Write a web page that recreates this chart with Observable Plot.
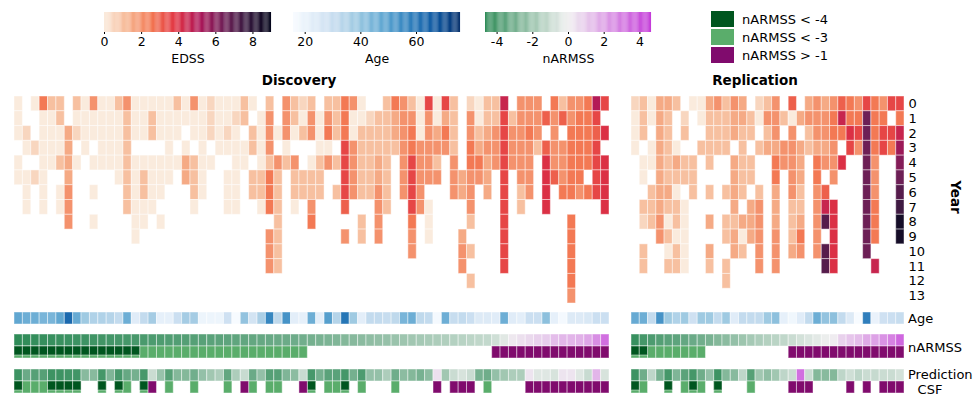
<!DOCTYPE html>
<html><head><meta charset="utf-8">
<script src="https://cdn.jsdelivr.net/npm/d3@7"></script>
<script src="https://cdn.jsdelivr.net/npm/@observablehq/plot@0.6"></script>
<style>
body{margin:0;background:#fff;font-family:"DejaVu Sans",sans-serif;}
#root{position:relative;width:974px;height:398px;overflow:hidden;background:#fff;}
.abs{position:absolute;white-space:nowrap;color:#000;}
</style></head><body><div id="root"></div>
<script>
const _ = null;
const years = [0,1,2,3,4,5,6,7,8,9,10,11,12,13];

// EDSS, Discovery cohort: one array per year (71 patients)
const discEdss0 = [0,_,0,2.5,1,1,_,1,0,2,0,0,1,2,0,0,0,0,0,1,0,2,0,0.5,0, 0,0,1,0,_,1,_,2,1,0.5,1,_,1,1,2.5,2,0,_,_,1,2.5,2,1, 0,3.5,0,3.5,1,_,0.5,0,1,1,4.5,_,2,2,2,_,2.5,1,2,2,2.5,5,3.5];
const discEdss1 = [0,_,_,0,0,1,_,0,0,0,0,0,0,1,0,0,1,0,0,0,0,0,0,0.5,0, 0,0.5,1,_,0,2,_,2,1,0,2,0,2,1,2.5,0,0,0.5,1,1,1.5,2,2, 0,2,0,1.5,1,_,2,0,1,1,3.5,1,2,2,2,3,2,3,2,2.5,2.5,3.5,_];
const discEdss2 = [0,0.5,_,0,0,0,1.5,0.5,0,0,0,0,0,1,0,0,1,0,0,0,_,0,0,0.5,0, 0.5,0,_,1,0,2,0,2,0,1,2,0,2.5,1,2.5,0,1,1,1,1,1.5,2,2.5, 0,2,1.5,2.5,1,_,2,1,1.5,2,3.5,2,2,2.5,2,_,2,_,2.5,2.5,2.5,3,4];
const discEdss3 = [_,0,0.5,0,0,0,1.5,_,0,_,0,0,0,1,_,_,_,_,0,_,0,_,0,_,0, 0,0,0,1,0,2,_,0,_,_,_,0,0,_,3.5,2,1,1,1,1,1,2,2.5, 2,2,2,2,1,_,2.5,1.5,2,2,3.5,2,2,2,1,3,2,2,2.5,2.5,2.5,3.5,_];
const discEdss4 = [0,_,_,0,0,1,1.5,0,_,0,0,0,0,1,0,0,0,0,0,0,1.5,1,0,0,_, _,0,0,_,0,1,2,1,2,_,0,1,2,1,3.5,2,1,1,1.5,1,_,2,3.5, 2,2,1,_,2,_,2.5,2.5,1.5,2,3.5,2,2,2,_,4,2,2,2.5,2.5,2.5,3.5,4];
const discEdss5 = [0,0,0.5,0,_,_,1.5,_,_,_,_,_,0,1,0,1,0,0,0,_,1.5,1,0,_,_, 0,0,_,1,1,2.5,1,_,1,1,1,1,_,_,3.5,2,1,1,1.5,1,_,2,3.5, 2,2,2,_,2,1.5,2,2,1.5,_,3.5,_,2,2,_,4,3,2,2.5,2.5,_,3.5,4];
const discEdss6 = [_,0,_,0,_,0,2,_,_,0,_,_,_,1,0,1,0,0,_,_,_,1,0,_,_, 0,0,_,1,1,2.5,1,_,1,1,1,1,_,1,3.5,2,1,1,2,1,_,2,3.5, 2,_,_,_,2,1.5,2,_,1.5,_,3.5,_,1,2,_,4,_,2.5,2.5,2,2.5,3.5,4];
const discEdss7 = [_,0,_,0,_,0,2,_,_,_,_,_,_,1,0,0,0,_,_,_,_,0,_,_,_, 0,0,_,_,0,2.5,1,_,0,_,2,_,_,_,3,_,_,_,2,1,_,_,3.5, 2,0,_,_,_,_,2,_,_,_,3.5,_,1,_,_,4,_,_,_,_,_,_,4];
const discEdss8 = [_,_,_,_,_,_,2,_,_,0, _,_,_,_,0,0,_,0,_,_, _,_,_,_,_,_,_,_,_,_, _,1,_,_,_,2.5,_,_,_,_, _,1,_,2,_,_,_,2.5,_,0, _,_,_,_,1,_,_,_,3.5,_, _,_,_,_,_,_,2.5,_,_,_, _];
const discEdss9 = [_,_,_,_,_,_,_,_,_,_, _,_,_,_,0,_,_,_,_,_, _,_,_,_,_,_,_,_,_,_, 2,1,_,_,_,_,_,_,_,2, _,1,_,2,_,_,_,2,_,0, _,_,_,1.5,_,_,_,_,3.5,_, _,_,_,_,_,_,2.5,_,_,_, _];
const discEdss10 = [_,_,_,_,_,_,_,_,_,_, _,_,_,_,_,_,_,_,_,_, _,_,_,_,_,_,_,_,_,_, 2,1,_,_,_,_,_,_,_,_, _,_,_,_,_,_,_,2,_,_, _,_,_,2,1,_,_,_,3.5,_, _,_,_,_,_,_,2.5,_,_,_, _];
const discEdss11 = [_,_,_,_,_,_,_,_,_,_, _,_,_,_,_,_,_,_,_,_, _,_,_,_,_,_,_,_,_,_, 2,1,_,_,_,_,_,_,_,_, _,_,_,_,_,_,_,_,_,_, _,_,_,2,_,_,_,_,3.5,_, _,_,_,_,_,_,2.5,_,_,_, _];
const discEdss12 = [_,_,_,_,_,_,_,_,_,_, _,_,_,_,_,_,_,_,_,_, _,_,_,_,_,_,_,_,_,_, _,_,_,_,_,_,_,_,_,_, _,_,_,_,_,_,_,_,_,_, _,_,_,_,1,_,_,_,_,_, _,_,_,_,_,_,2.5,_,_,_, _];
const discEdss13 = [_,_,_,_,_,_,_,_,_,_, _,_,_,_,_,_,_,_,_,_, _,_,_,_,_,_,_,_,_,_, _,_,_,_,_,_,_,_,_,_, _,_,_,_,_,_,_,_,_,_, _,_,_,_,_,_,_,_,_,_, _,_,_,_,_,_,2,_,_,_, _];

// EDSS, Replication cohort (33 patients)
const repEdss0 = [0.5,1,0,1.5,1.5,1,_,0,0,1.5,2,1,2,1.5,_,0.5,1,2,_,3,_,1.5,2,1.5,2,3,2.5,2,3.5,2.5,2,3.5,3.5];
const repEdss1 = [0,1,0,1.5,1,_,0.5,_,0,1,1,1,1.5,1.5,1,0,2,2,1,0,1.5,2,2,2,2.5,4.5,2.5,2.5,6.5,2.5,2.5,_,2.5];
const repEdss2 = [0,1,_,1.5,1,_,1,_,_,1,1,1,1.5,1,1,_,1,2,_,2,_,1,2,2,2.5,2.5,4,3.5,6.5,2.5,3.5,3.5,4.5];
const repEdss3 = [0,_,0,1.5,1,0,_,_,1,1,1,1,_,1,_,1,1.5,1.5,2,2,1.5,1,1.5,1.5,2,_,3.5,2,6.5,2.5,3.5,2.5,5.5];
const repEdss4 = [_,0,0,1.5,1,1.5,1,1,_,1,_,_,1.5,1,1,_,_,2.5,2,2,1.5,_,2.5,2,2,4,_,_,6.5,2,_,_,6];
const repEdss5 = [_,0,_,1.5,1,1,1,1,_,_,_,_,1.5,1,1,_,_,2.5,_,2,1.5,_,2.5,_,2,_,_,_,6.5,2,_,_,6.5];
const repEdss6 = [_,_,1,1.5,1.5,0,_,1,_,1,_,1,1.5,1,_,1,_,1.5,_,2,1,_,2,3,_,_,_,_,6.5,2,_,_,7];
const repEdss7 = [_,1,1,1.5,1,1,0,_,_,_,_,_,1.5,_,1.5,2,_,1.5,_,1,1,_,2,4.5,4,_,_,_,6.5,2.5,_,_,7.5];
const repEdss8 = [_,0.5,1,2,0,1,0,_,_,1.5,_,1,1,1.5,1.5,2,_,1.5,_,1,1.5,_,2,7,4,_,_,_,6.5,2.5,_,_,8.5];
const repEdss9 = [_,_,_,2,1,0,0,_,_,_,_,1,1.5,0,1.5,2,_,2,_,1,2.5,_,2,_,4,_,_,_,6.5,2.5,_,_,8.5];
const repEdss10 = [_,1,_,_,0,1,0,_,_,1.5,_,_,1.5,1,_,2,_,2,_,1.5,2,_,2,7,4,_,_,_,6.5,_,_,_,_];
const repEdss11 = [_,1,_,_,1,1,0,_,_,1,_,1,_,_,_,2,_,2,_,_,_,_,_,7,4,_,_,_,_,4.5,_,_,_];
const repEdss12 = [_,_,_,_,_,_,_,_,_,_,_,1,_,_,_,_,_,_,_,_,_,_,_,_,_,_,_,_,_,_,_,_,_];
const repEdss13 = [_,_,_,_,_,_,_,_,_,_,_,_,_,_,_,_,_,_,_,_,_,_,_,_,_,_,_,_,_,_,_,_,_];

// Age
const discAge = [48,46,46,44,44,48,63,47,38,35,35,34,31,46,23,31,37,21,21,29,37,37,19,19,19,28,16,40,27,36,56,32,53,22,21,46,22,50,34,60,38,22,31,31,30,32,44,46,32,31,17,46,30,31,29,24,24,23,46,23,22,29,29,41,21,17,24,24,25,29,29];
const repAge = [47,46,31,53,38,35,38,28,38,38,31,38,23,31,31,31,38,41,21,18,23,31,46,40,41,31,24,16,58,20,28,29,30];

// nARMSS (observed)
const discNarmss = [-4.62,-4.55,-4.5,-4.46,-4.41,-4.37,-4.33,-4.3,-4.26,-4.22,-4.18,-4.14,-4.1,-4.07,-4.03,-3.98,-3.93,-3.88,-3.83,-3.78,-3.74,-3.7,-3.65,-3.6,-3.55,-3.5,-3.46,-3.41,-3.36,-3.31,-3.26,-3.21,-3.16,-3.11,-3.05,-2.95,-2.86,-2.77,-2.68,-2.6,-2.51,-2.42,-2.33,-2.24,-2.15,-2.06,-1.97,-1.88,-1.79,-1.7,-1.61,-1.52,-1.43,-1.34,-1.25,-1.16,-1.07,-0.8,-0.35,0.2,0.4,0.6,0.8,0.9,1.3,1.45,1.5,1.6,1.9,2.5,3.3];
const repNarmss = [-4.4,-4.1,-3.9,-3.75,-3.6,-3.5,-3.35,-3.2,-3.05,-2.85,-2.6,-2.4,-2.2,-2,-1.8,-1.6,-1.45,-1.3,-1.15,-0.9,-0.7,-0.5,-0.3,-0.1,0.1,0.8,1.1,1.3,1.8,2,2.4,2.8,3.5];

// Predicted nARMSS (CSF model)
const discPred = [-4.3,-3.2,-3.7,-3.7,-4.3,-4.3,-4.2,-4.2,-2.5,-2.5,-4.1,-2.7,-4.05,-3.3,-2.95,-4.05,-0.9,-2.1,-3.7,-2.6,-2.6,-3.05,-2.2,-1.9,-1.6,-3.4,-1.6,-0.95,-3.2,-2.2,-3.7,-3.7,-2.7,-2.4,-0.95,-4.05,-2.95,-3.6,-3.6,-4.1,-2.95,-3.9,-2.2,-2.2,-1.6,-3.1,-2.4,-2.6,-2.9,-2.4,0.4,-1.9,-0.9,-0.6,-0.9,-2.9,-3.1,-2.2,-1.9,-1.6,-1.6,0.3,-0.4,-0.4,-0.6,0.3,0.3,-0.4,-0.95,1.5,-0.6];
const repPred = [-4.3,-3.1,-1.2,-2.9,-4.1,-2.7,-3.6,-4.1,-3.1,-2.2,-4.3,-2.6,-2.5,-1.2,-3.7,-1.9,-2.3,-1.9,-1.2,-0.9,3.3,-0.9,-2.6,-2.5,-2.6,-1.2,-0.8,-1.2,-0.9,-1.0,-0.9,-0.9,-0.7];

const edssTicks = [0,2,4,6,8];
const ageTicks = [20,40,60];
const narmssTicks = [-4,-2,0,2,4];
const catLabels = ["nARMSS < -4","nARMSS < -3","nARMSS > -1"];
const rowLabels = ["Age","nARMSS","Prediction","CSF"];
const panelTitles = ["Discovery","Replication"];

// ---- scales / styles ----
const edssColor = {type:"linear", domain:[0,1.2857,2.5714,3.8571,5.1429,6.4286,7.7143,9],
  range:["#faebdd","#f6b48f","#f37651","#e13342","#ad1759","#701f57","#35193e","#03051a"], interpolate:"rgb"};
const ageColor = {type:"linear", domain:[16,76], scheme:"blues"};
const narmssColor = {type:"linear", domain:[-4.65,0,4.65], range:["#2e8b57","#f0f0f0","#c43ad9"], interpolate:"rgb"};
const DARK = "#00561f", GREEN = "#5aad6b", PURPLE = "#800b6d";
const cellStyle = {stroke:"white", strokeOpacity:0.45, strokeWidth:1, inset:0};
const baseStyle = {fontFamily:"DejaVu Sans", fontSize:"13px", overflow:"visible", background:"transparent", color:"black"};

const root = document.getElementById("root");
function place(el, left, top){ el.style.position="absolute"; el.style.left=left+"px"; el.style.top=top+"px"; el.style.maxWidth="none"; root.appendChild(el); return el; }
function text(str, left, top, css){ const d=document.createElement("div"); d.className="abs"; d.textContent=str; d.style.left=left+"px"; d.style.top=top+"px"; Object.assign(d.style, css||{}); root.appendChild(d); return d; }

const panels = [
  {left:14, width:595, edss:[discEdss0,discEdss1,discEdss2,discEdss3,discEdss4,discEdss5,discEdss6,discEdss7,discEdss8,discEdss9,discEdss10,discEdss11,discEdss12,discEdss13], age:discAge, narmss:discNarmss, pred:discPred, axis:false, titleX:299},
  {left:631, width:273, edss:[repEdss0,repEdss1,repEdss2,repEdss3,repEdss4,repEdss5,repEdss6,repEdss7,repEdss8,repEdss9,repEdss10,repEdss11,repEdss12,repEdss13], age:repAge, narmss:repNarmss, pred:repPred, axis:true, titleX:755}
];

function catMarks(data, row){
  return [
    Plot.cell(data.filter(d => d.v < -3), {x:"x", y:() => row, fill:GREEN, ...cellStyle}),
    Plot.cell(data.filter(d => d.v < -4), {x:"x", y:() => row, fill:DARK, ...cellStyle, insetBottom:3}),
    Plot.cell(data.filter(d => d.v > -1), {x:"x", y:() => row, fill:PURPLE, ...cellStyle})
  ];
}

panels.forEach((p, pi) => {
  const ncols = p.age.length;
  const xs = {type:"band", domain:d3.range(ncols), padding:0, round:false, axis:null};
  const cells = [];
  p.edss.forEach((row, yi) => row.forEach((v, x) => { if (v !== null) cells.push({x, year:years[yi], v}); }));
  const mr = p.axis ? 40 : 0;
  const heat = Plot.plot({
    width:p.width + mr, height:207, marginTop:0, marginBottom:0, marginLeft:0, marginRight:mr,
    style:baseStyle, x:xs,
    y:{type:"band", domain:years, padding:0, round:false, axis:p.axis ? "right" : null, tickSize:0, tickPadding:4, label:null},
    color:edssColor,
    marks:[Plot.cell(cells, {x:"x", y:"year", fill:"v", ...cellStyle})]
  });
  place(heat, p.left, 96);
  const ageData = p.age.map((v, x) => ({x, v}));
  const ageP = Plot.plot({width:p.width, height:12, margin:0, style:baseStyle, x:xs, color:ageColor,
    marks:[Plot.cell(ageData, {x:"x", fill:"v", ...cellStyle})]});
  place(ageP, p.left, 312);
  [[p.narmss, 334], [p.pred, 369]].forEach(([vals, top]) => {
    const data = vals.map((v, x) => ({x, v}));
    const bp = Plot.plot({width:p.width, height:24, margin:0, style:baseStyle, x:xs,
      y:{type:"band", domain:["val","cat"], padding:0, round:false, axis:null}, color:narmssColor,
      marks:[Plot.cell(data, {x:"x", y:() => "val", fill:"v", ...cellStyle}), ...catMarks(data, "cat")]});
    place(bp, p.left, top);
  });
  text(panelTitles[pi], p.titleX, 80, {fontWeight:"bold", fontSize:"13.5px", transform:"translate(-50%,-50%)"});
});

text("Year", 956, 197, {fontWeight:"bold", fontSize:"13.5px", transform:"translate(-50%,-50%) rotate(90deg)"});
text(rowLabels[0], 908, 318, {fontSize:"13px", transform:"translateY(-50%)"});
text(rowLabels[1], 908, 347, {fontSize:"13px", transform:"translateY(-50%)"});
text(rowLabels[2], 908, 374, {fontSize:"13px", transform:"translateY(-50%)"});
text(rowLabels[3], 930, 389, {fontSize:"13px", transform:"translate(-50%,-50%)"});

function colorbar(left, width, domain, colorOpts, ticks, label){
  const [a, b] = domain, n = 150, step = (b - a) / n;
  const steps = d3.range(n).map(i => a + step * i);
  const cb = Plot.plot({
    width, height:64, marginTop:12, marginBottom:32, marginLeft:0, marginRight:0,
    style:{...baseStyle, fontSize:"12.5px"},
    x:{domain, ticks, tickSize:2, tickPadding:3, tickFormat:d => String(d), label, labelAnchor:"center", labelArrow:"none", labelOffset:30},
    y:{domain:[0,1], axis:null},
    color:colorOpts,
    marks:[Plot.rect(steps, {x1:d => d, x2:d => d + step * 1.05, y1:0, y2:1, fill:d => d + step / 2})]
  });
  place(cb, left, 0);
}
colorbar(104, 167, [0, 9], edssColor, edssTicks, "EDSS");
colorbar(293, 167, [15.8, 75.8], ageColor, ageTicks, "Age");
colorbar(485, 166, [-4.65, 4.65], narmssColor, narmssTicks, "nARMSS");

[DARK, GREEN, PURPLE].forEach((c, i) => {
  const sw = document.createElement("div");
  sw.style.cssText = `position:absolute;left:711px;top:${11 + i*18}px;width:23px;height:16px;background:${c};`;
  root.appendChild(sw);
  text(catLabels[i], 742, 19 + i*18, {fontSize:"13px", transform:"translateY(-50%)"});
});
</script></body></html>
